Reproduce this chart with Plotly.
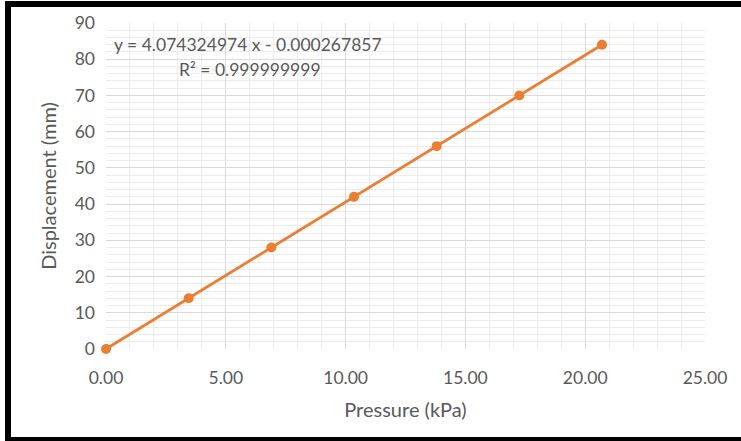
import plotly.graph_objects as go

pressure_kpa = [0.00, 3.45, 6.90, 10.35, 13.80, 17.25, 20.70]
displacement_mm = [0, 14, 28, 42, 56, 70, 84]

x_title = "Pressure (kPa)"
y_title = "Displacement (mm)"
eq_text = "y = 4.074324974 x - 0.000267857"
r2_text = "R² = 0.999999999"

FONT = "Lato, Calibri, Carlito, sans-serif"
GRAY = "#595959"
ORANGE = "#ED7D31"

W, H = 741, 441
L, R, T, B = 106, 36, 23, 92
pw, ph = W - L - R, H - T - B


def px(xp):
    return (xp - L) / pw


def py(yp):
    return (H - B - yp) / ph


fig = go.Figure()
fig.add_trace(go.Scatter(
    x=pressure_kpa, y=displacement_mm, mode="lines+markers",
    line=dict(color=ORANGE, width=2.8),
    marker=dict(color=ORANGE, size=10),
    showlegend=False, cliponaxis=False,
))

axis_common = dict(
    showgrid=True, gridcolor="#d9d9d9", gridwidth=1,
    zeroline=False, showline=False, ticks="",
    tickfont=dict(family=FONT, size=17.5, color=GRAY),
)

fig.update_xaxes(
    range=[0, 25], dtick=5, tick0=0, tickformat=".2f",
    minor=dict(dtick=1, showgrid=True, gridcolor="#ececec", gridwidth=1),
    title=dict(text=x_title, font=dict(family=FONT, size=20, color=GRAY), standoff=16),
    ticklabelstandoff=16,
    **axis_common,
)
fig.update_yaxes(
    range=[0, 90], dtick=10, tick0=0,
    minor=dict(dtick=2, showgrid=True, gridcolor="#ececec", gridwidth=1),
    title=dict(text=y_title, font=dict(family=FONT, size=20, color=GRAY), standoff=12),
    ticklabelstandoff=10,
    **axis_common,
)

fig.add_annotation(x=0.25, y=84.2, xref="x", yref="y", text=eq_text, showarrow=False,
                   xanchor="left", yanchor="middle",
                   font=dict(family=FONT, size=17.5, color=GRAY))
fig.add_annotation(x=6.0, y=77.3, xref="x", yref="y", text=r2_text, showarrow=False,
                   xanchor="center", yanchor="middle",
                   font=dict(family=FONT, size=17.5, color=GRAY))

# black frame (left, top, bottom)
frame = [
    (5, 1, 11, 441),
    (5, 1, 741, 7),
    (5, 437, 741, 441),
]
for x0, y0, x1, y1 in frame:
    fig.add_shape(type="rect", xref="paper", yref="paper",
                  x0=px(x0), x1=px(x1), y0=py(y1), y1=py(y0),
                  fillcolor="black", line=dict(width=0), layer="above")

fig.update_layout(
    width=W, height=H,
    margin=dict(l=L, r=R, t=T, b=B),
    paper_bgcolor="white", plot_bgcolor="white",
    font=dict(family=FONT, color=GRAY),
)

fig.write_html("out.html", config={"displayModeBar": False},
               post_script="document.body.style.margin='0';")
